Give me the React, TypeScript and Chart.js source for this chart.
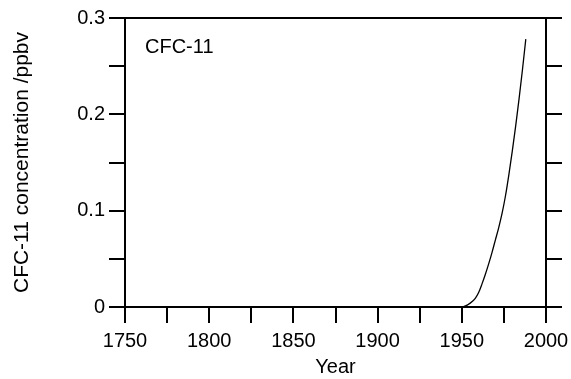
import React, { useEffect, useRef } from "react";
import { Chart, registerables } from "chart.js";

Chart.register(...registerables);

const years = [1750, 1950, 1955, 1958, 1960, 1962, 1964, 1966, 1968, 1970, 1972, 1974, 1976, 1978, 1980, 1982, 1984, 1986, 1988];
const cfc11 = [0, 0, 0.004, 0.009, 0.015, 0.024, 0.034, 0.045, 0.057, 0.07, 0.083, 0.098, 0.116, 0.138, 0.162, 0.188, 0.216, 0.246, 0.278];

const xMin = 1750;
const xMax = 2000;
const yMin = 0;
const yMax = 0.3;
const seriesLabel = "CFC-11";
const xTitle = "Year";
const yTitle = "CFC-11 concentration /ppbv";

const FONT = "'Liberation Sans', Arial, Helvetica, sans-serif";
const FS = 20;

export default function App() {
  const ref = useRef<HTMLCanvasElement | null>(null);

  useEffect(() => {
    document.body.style.margin = "0";
    const canvas = ref.current;
    if (!canvas) return;

    const fix = (w: number | null, h: number | null) => (scale: any) => {
      if (w !== null) scale.width = w;
      if (h !== null) scale.height = h;
      scale.paddingLeft = 0;
      scale.paddingRight = 0;
      scale.paddingTop = 0;
      scale.paddingBottom = 0;
    };

    const labelPlugin = {
      id: "seriesLabel",
      afterDraw(chart: any) {
        const { ctx, chartArea } = chart;
        ctx.save();
        ctx.font = `${FS}px ${FONT}`;
        ctx.fillStyle = "#000";
        ctx.textAlign = "left";
        ctx.textBaseline = "alphabetic";
        ctx.fillText(seriesLabel, chartArea.left + 20, chartArea.top + 35);
        ctx.restore();
      },
    };

    const axisCommon = {
      border: { display: true, color: "#000", width: 2 },
      grid: { display: true, drawOnChartArea: false, drawTicks: true, tickLength: 16, color: "#000", lineWidth: 2 },
    };

    const chart = new Chart(canvas, {
      type: "line",
      data: {
        datasets: [
          {
            label: seriesLabel,
            data: years.map((y, i) => ({ x: y, y: cfc11[i] })),
            borderColor: "#000",
            borderWidth: 1.3,
            pointRadius: 0,
            cubicInterpolationMode: "monotone",
            fill: false,
          },
        ],
      },
      options: {
        animation: false,
        responsive: false,
        maintainAspectRatio: false,
        layout: { padding: 0 },
        plugins: { legend: { display: false }, tooltip: { enabled: false }, title: { display: false } },
        scales: {
          x: {
            type: "linear",
            position: "bottom",
            min: xMin,
            max: xMax,
            ...axisCommon,
            ticks: {
              stepSize: 25,
              autoSkip: false,
              maxRotation: 0,
              padding: 6,
              color: "#000",
              font: { family: FONT, size: FS },
              callback: (v: any) => (Number(v) % 50 === 0 ? String(v) : ""),
            },
            title: { display: true, text: xTitle, color: "#000", font: { family: FONT, size: FS }, padding: { top: 0, bottom: 0 } },
            afterFit: fix(null, 72),
          },
          x2: {
            type: "linear",
            position: "top",
            min: xMin,
            max: xMax,
            border: { display: true, color: "#000", width: 2 },
            grid: { display: false },
            ticks: { display: false },
            afterFit: fix(null, 18),
          },
          y: {
            type: "linear",
            position: "left",
            min: yMin,
            max: yMax,
            ...axisCommon,
            ticks: {
              stepSize: 0.05,
              autoSkip: false,
              padding: 4,
              color: "#000",
              font: { family: FONT, size: FS },
              callback: (v: any) => {
                const n = Number(v);
                const t = n * 10;
                if (Math.abs(t - Math.round(t)) > 1e-6) return "";
                return n === 0 ? "0" : n.toFixed(1);
              },
            },
            title: { display: true, text: yTitle, color: "#000", font: { family: FONT, size: 21 }, padding: { top: 10, bottom: 0 } },
            afterFit: fix(125, null),
          },
          y2: {
            type: "linear",
            position: "right",
            min: yMin,
            max: yMax,
            ...axisCommon,
            ticks: { stepSize: 0.05, autoSkip: false, display: true, callback: () => "" },
            afterFit: fix(25, null),
          },
        },
      },
      plugins: [labelPlugin],
    } as any);

    return () => chart.destroy();
  }, []);

  return (
    <div style={{ width: 571, height: 379, background: "#fff" }}>
      <canvas ref={ref} width={571} height={379} style={{ display: "block", width: 571, height: 379 }} />
    </div>
  );
}
